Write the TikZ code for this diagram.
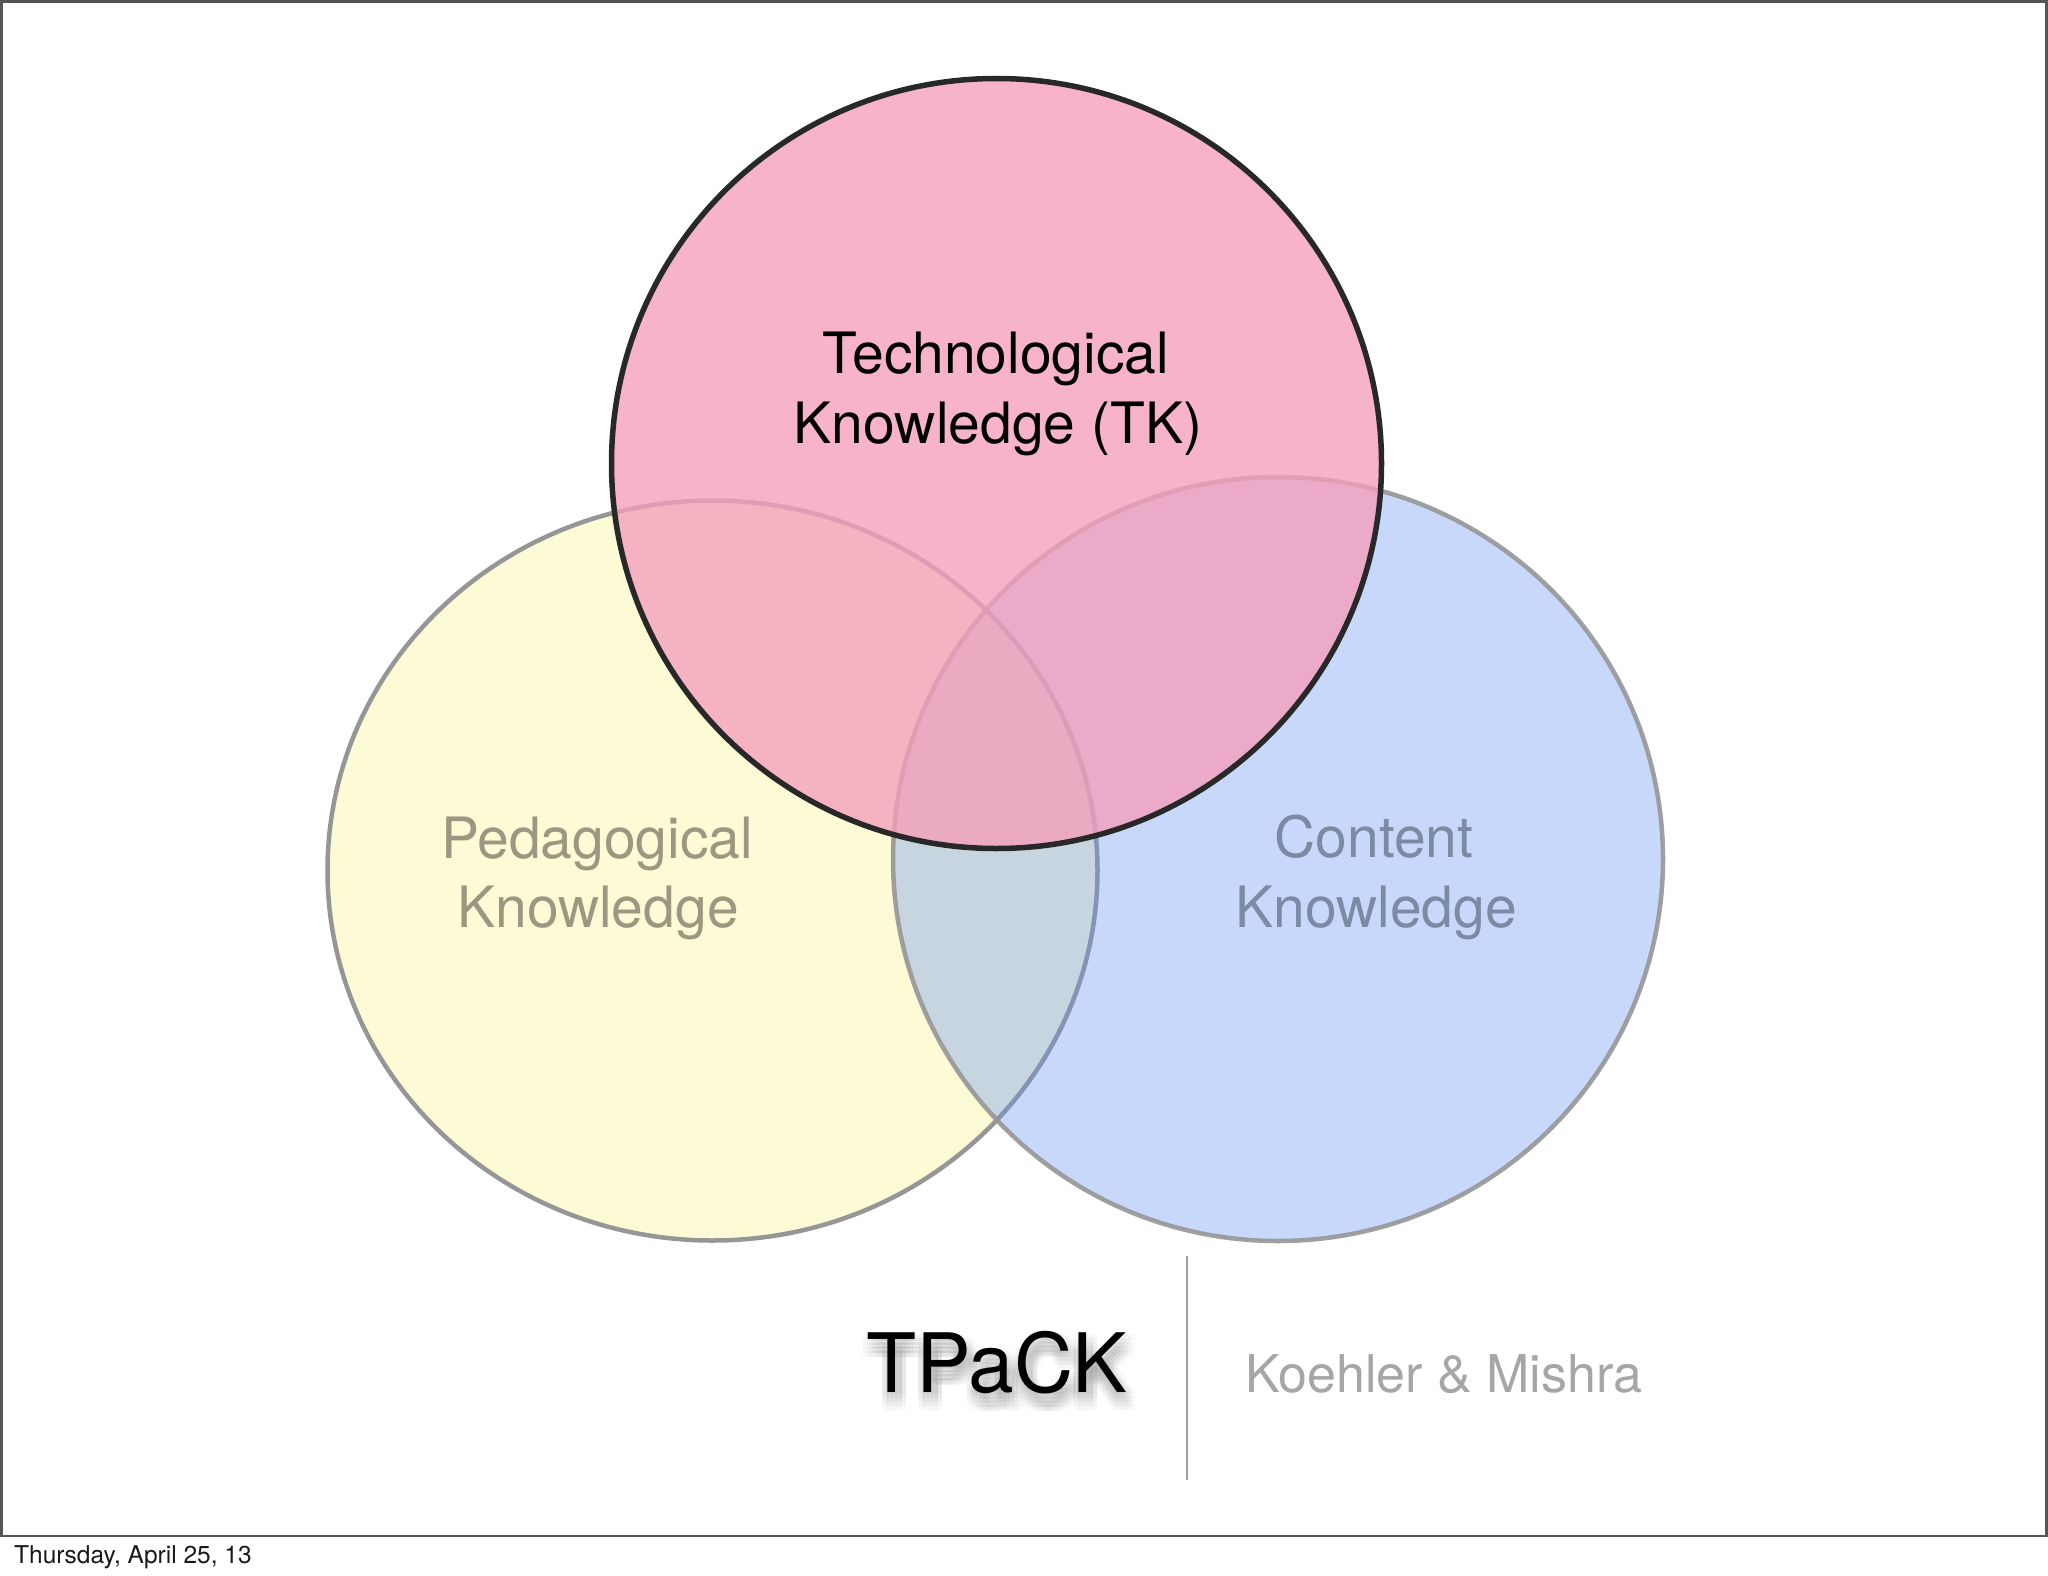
\documentclass[tikz,border=0pt]{standalone}
\usepackage{fontspec}
\setmainfont{TeX Gyre Heros}
\definecolor{pinkfill}{RGB}{244,158,186}
\definecolor{yellowfill}{RGB}{253,250,214}
\definecolor{bluefill}{RGB}{97,146,243}
\definecolor{ringgray}{RGB}{150,150,150}
\definecolor{pinkedge}{RGB}{40,40,40}
\definecolor{pktext}{RGB}{155,151,128}
\definecolor{cktext}{RGB}{124,139,163}
\definecolor{authortext}{RGB}{166,166,166}
\definecolor{framegray}{RGB}{85,85,85}
\definecolor{rulegray}{RGB}{160,160,160}
\begin{document}
\begin{tikzpicture}[x=1pt,y=-1pt,
  labeltext/.style={font=\fontsize{57}{68}\selectfont, anchor=base, inner sep=0pt},
  bigtitle/.style={font=\fontsize{82}{96}\selectfont, anchor=base, inner sep=0pt},
  ring/.style={ringgray, line width=4.5pt}
]
\useasboundingbox (0,0) rectangle (2048,1576);
\fill[white] (0,0) rectangle (2048,1576);
\draw[framegray, line width=2.5pt] (1.5,1.5) rectangle (2046.5,1536);
% Pedagogical (yellow)
\draw[ring, fill=yellowfill] (712.5,870.5) ellipse [x radius=385pt, y radius=370pt];
% Content (blue)
\draw[ring, fill=bluefill, fill opacity=0.35, draw opacity=0.9] (1278,859) ellipse [x radius=385pt, y radius=382pt];
% Technological (pink)
\draw[pinkedge, line width=5.5pt, fill=pinkfill, fill opacity=0.78] (996.5,463.5) circle [radius=385pt];
% labels
\node[labeltext] (tk1) at (996,373) {Technological};
\node[labeltext] (tk2) at (998,443) {Knowledge (TK)};
\node[labeltext, text=pktext] (pk1) at (597,858) {Pedagogical};
\node[labeltext, text=pktext] (pk2) at (598,927) {Knowledge};
\node[labeltext, text=cktext] (ck1) at (1374,857) {Content};
\node[labeltext, text=cktext] (ck2) at (1376,927) {Knowledge};
% TPaCK with soft shadow
\foreach \dx in {-8,-4,0,4,8} {
  \foreach \dy in {-8,-4,0,4,8} {
    \node[bigtitle, text=black, text opacity=0.02] (sh\dx\dy) at (1000+\dx,1402+\dy) {TPaCK};
  }
}
\node[bigtitle] (tpack) at (997,1392) {TPaCK};
\coordinate (ruletop) at (1187,1256);
\coordinate (rulebot) at (1187,1480);
\draw[rulegray, line width=2pt] (ruletop) -- (rulebot);
\node[font=\fontsize{52}{62}\selectfont, anchor=base west, inner sep=0pt, text=authortext] (authors) at (1245,1392) {Koehler \& Mishra};
\node[font=\fontsize{24.5}{29}\selectfont, anchor=base west, inner sep=0pt, text=black!90] (date) at (14,1563) {Thursday, April 25, 13};
\end{tikzpicture}
\end{document}
